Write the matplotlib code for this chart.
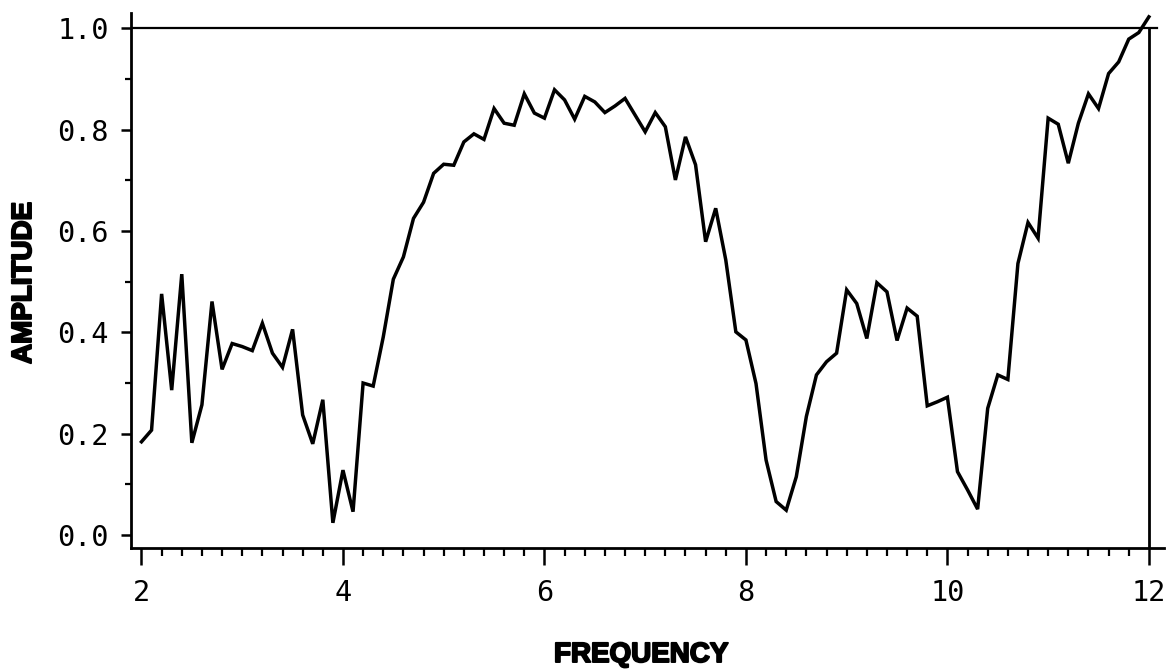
import numpy as np
import matplotlib
matplotlib.use("Agg")
import matplotlib.pyplot as plt
from matplotlib.ticker import MultipleLocator, FormatStrFormatter
import matplotlib.patheffects as pe

# Sampled spectrum: amplitude at every 0.1 of frequency, 2 to 12
frequency = np.linspace(2.0, 12.0, 101)
amplitude = [
    0.184, 0.207, 0.476, 0.286, 0.515, 0.182, 0.257, 0.461, 0.327, 0.378,
    0.372, 0.364, 0.418, 0.359, 0.331, 0.406, 0.237, 0.180, 0.267, 0.024,
    0.128, 0.046, 0.300, 0.294, 0.391, 0.505, 0.549, 0.625, 0.657, 0.714,
    0.732, 0.730, 0.776, 0.792, 0.781, 0.842, 0.813, 0.809, 0.871, 0.833,
    0.823, 0.879, 0.859, 0.821, 0.866, 0.855, 0.834, 0.847, 0.862, 0.829,
    0.796, 0.834, 0.806, 0.701, 0.786, 0.731, 0.579, 0.645, 0.543, 0.401,
    0.385, 0.299, 0.148, 0.066, 0.049, 0.115, 0.234, 0.316, 0.342, 0.359,
    0.484, 0.457, 0.388, 0.498, 0.480, 0.384, 0.448, 0.432, 0.255, 0.263,
    0.272, 0.125, 0.089, 0.051, 0.250, 0.316, 0.307, 0.536, 0.617, 0.586,
    0.823, 0.811, 0.734, 0.813, 0.871, 0.842, 0.911, 0.934, 0.979, 0.992,
    1.023,
]

x_major = [2, 4, 6, 8, 10, 12]
y_major = [0.0, 0.2, 0.4, 0.6, 0.8, 1.0]
x_label = "FREQUENCY"
y_label = "AMPLITUDE"

W, H = 1172, 671
fig = plt.figure(figsize=(W / 100, H / 100), dpi=100)
ax = fig.add_axes([131 / W, 1 - 548 / H, 1033 / W, 535 / H])

XMIN, XMAX = 1.896, 12.15
YMIN, YMAX = -0.0257, 1.0306
ax.set_xlim(XMIN, XMAX)
ax.set_ylim(YMIN, YMAX)

ax.plot(frequency, amplitude, color="black", lw=2.5, solid_joinstyle="miter",
        clip_on=False, zorder=3)

# Frame: left and bottom spines, plus the 1.0 reference line and the line at 12
for side in ("top", "right"):
    ax.spines[side].set_visible(False)
for side in ("left", "bottom"):
    ax.spines[side].set_linewidth(2.0)
ax.axhline(1.0, xmin=0, xmax=(12.08 - XMIN) / (XMAX - XMIN), color="black", lw=1.6)
ax.axvline(12.0, ymin=0, ymax=(1.0 - YMIN) / (YMAX - YMIN), color="black", lw=2.0)

ax.set_xticks(x_major)
ax.set_yticks(y_major)
ax.xaxis.set_minor_locator(MultipleLocator(0.2))
ax.yaxis.set_minor_locator(MultipleLocator(0.1))
ax.yaxis.set_major_formatter(FormatStrFormatter("%.1f"))

ax.tick_params(axis="x", which="major", direction="out", length=12, width=1.8,
               pad=10, labelsize=20.5)
ax.tick_params(axis="x", which="minor", direction="out", length=6, width=1.6)
ax.tick_params(axis="y", which="major", direction="out", length=7, width=1.8,
               pad=9, labelsize=20.5)
ax.tick_params(axis="y", which="minor", direction="out", length=4.5, width=1.6)
for lab in ax.get_xticklabels() + ax.get_yticklabels():
    lab.set_fontfamily("DejaVu Sans Mono")

label_font = dict(family="Liberation Sans", weight="bold", size=20)
stroke = [pe.withStroke(linewidth=1.4, foreground="black")]
ax.set_xlabel(x_label, fontdict=label_font, path_effects=stroke)
ax.set_ylabel(y_label, fontdict=label_font, path_effects=stroke, va="center")
ax.xaxis.set_label_coords((641 - 131) / 1033, (548 - 655) / 535)
ax.xaxis.label.set_va("center")
ax.yaxis.set_label_coords((24 - 131) / 1033, (548 - 283) / 535)

fig.savefig("out.png", dpi=100)
